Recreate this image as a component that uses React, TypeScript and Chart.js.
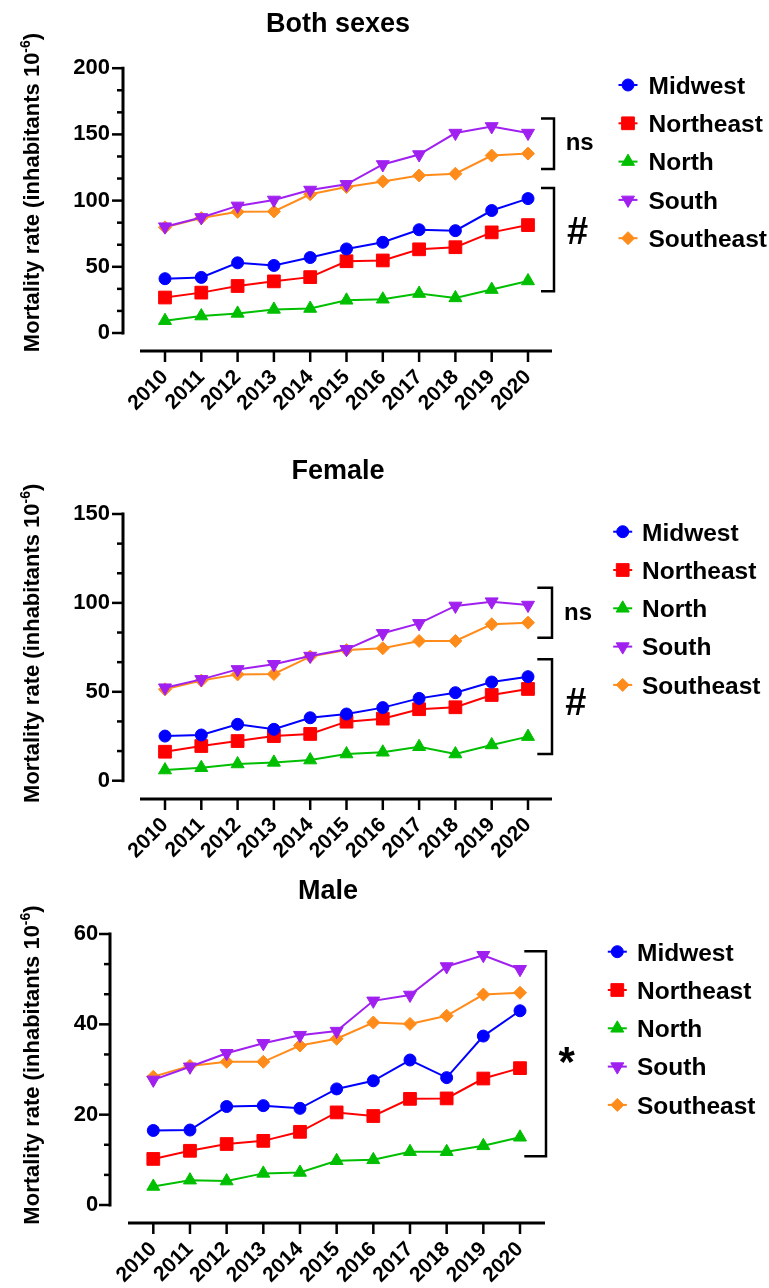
import React, { useEffect, useRef } from 'react';
import { Chart, registerables } from 'chart.js';
import { drawPoint } from 'chart.js/helpers';

Chart.register(...registerables);

// ---------- data ----------
const years = ['2010', '2011', '2012', '2013', '2014', '2015', '2016', '2017', '2018', '2019', '2020'];
const regions = ['Midwest', 'Northeast', 'North', 'South', 'Southeast'];

const bothMidwest = [41, 42, 53, 51, 57, 63.5, 68.5, 78, 77.3, 92.5, 101.5];
const bothNortheast = [26.8, 30.5, 35.5, 39, 42.2, 54.2, 54.8, 63.2, 64.8, 76, 81.5];
const bothNorth = [9.3, 12.8, 14.8, 17.8, 18.5, 24.7, 25.5, 29.8, 26.5, 32.8, 39.3];
const bothSouth = [80.3, 87.3, 96, 100.5, 108, 112.3, 127.3, 134.8, 151, 156, 151];
const bothSoutheast = [79.8, 86.8, 91.5, 91.8, 104.8, 110.3, 114.5, 119, 120.3, 134, 135.5];

const femaleMidwest = [25.1, 25.7, 31.7, 28.9, 35.4, 37.5, 41.1, 46.3, 49.5, 55.5, 58.5];
const femaleNortheast = [16.3, 19.5, 22.3, 25.1, 26.3, 33.2, 34.9, 40.2, 41.3, 48.2, 51.6];
const femaleNorth = [6, 7.3, 9.4, 10.3, 11.6, 15, 16, 19.1, 15, 20.1, 24.8];
const femaleSouth = [52.3, 57, 62.6, 65.5, 70.1, 73.9, 82.9, 88.5, 98.3, 100.7, 98.8];
const femaleSoutheast = [51.4, 56.3, 59.8, 60, 69.8, 73.5, 74.5, 78.6, 78.6, 88, 88.9];

const maleMidwest = [16.5, 16.6, 21.8, 22, 21.4, 25.7, 27.5, 32.1, 28.2, 37.4, 43];
const maleNortheast = [10.2, 12, 13.5, 14.2, 16.2, 20.5, 19.7, 23.5, 23.6, 28, 30.3];
const maleNorth = [4.1, 5.5, 5.3, 7, 7.2, 9.8, 10, 11.8, 11.8, 13.1, 15];
const maleSouth = [27.7, 30.6, 33.6, 35.8, 37.6, 38.5, 45.2, 46.5, 52.8, 55.3, 52.2];
const maleSoutheast = [28.4, 30.8, 31.7, 31.7, 35.3, 36.8, 40.4, 40.1, 41.9, 46.6, 47];

// significance brackets (value ranges on the y axis)
const bothBrackets = [
  { label: 'ns', from: 162, to: 123.8 },
  { label: '#', from: 109.5, to: 31.5 },
];
const femaleBrackets = [
  { label: 'ns', from: 108.5, to: 80.4 },
  { label: '#', from: 68.3, to: 15 },
];
const maleBrackets = [{ label: '*', from: 56.2, to: 10.8 }];

// ---------- styles ----------
const FONT = '"Liberation Sans", Arial, Helvetica, sans-serif';
const W = 769;
const Y_BOX = 100;

const seriesStyles = [
  { color: '#0000FF', pointStyle: 'circle', radius: 6, rotation: 0 },
  { color: '#FF0000', pointStyle: 'rect', radius: 9, rotation: 0 },
  { color: '#00BF00', pointStyle: 'triangle', radius: 7.5, rotation: 0 },
  { color: '#A020F0', pointStyle: 'triangle', radius: 7.5, rotation: 180 },
  { color: '#FF8C1A', pointStyle: 'rectRot', radius: 6.5, rotation: 0 },
];

type BracketDef = { label: string; from: number; to: number };
type BracketLayout = { x1: number; x2: number; cx: number; cy: number; size: number };

type Panel = {
  key: string;
  title: string;
  top: number;
  height: number;
  area: { left: number; right: number; top: number; bottom: number };
  yMax: number;
  yStep: number;
  axisX: number;
  xAxisGap: number;
  xAxisLeft: number;
  xAxisRight: number;
  titleX: number;
  titleBase: number;
  yTitleCenter: number;
  legendMarkerX: number;
  legendTextX: number;
  legendY: number;
  series: number[][];
  brackets: BracketDef[];
  bracketLayout: BracketLayout[];
};

const panels: Panel[] = [
  {
    key: 'both',
    title: 'Both sexes',
    top: 0,
    height: 430,
    area: { left: 165, right: 528, top: 67, bottom: 333 },
    yMax: 200,
    yStep: 50,
    axisX: 123,
    xAxisGap: 18,
    xAxisLeft: 140,
    xAxisRight: 552,
    titleX: 338,
    titleBase: 31.7,
    yTitleCenter: 192.5,
    legendMarkerX: 628,
    legendTextX: 648.5,
    legendY: 85,
    series: [bothMidwest, bothNortheast, bothNorth, bothSouth, bothSoutheast],
    brackets: bothBrackets,
    bracketLayout: [
      { x1: 541, x2: 554, cx: 580, cy: 143.3, size: 24 },
      { x1: 541, x2: 554, cx: 577.5, cy: 230.5, size: 38 },
    ],
  },
  {
    key: 'female',
    title: 'Female',
    top: 440,
    height: 420,
    area: { left: 165, right: 528, top: 74, bottom: 340.7 },
    yMax: 150,
    yStep: 50,
    axisX: 123,
    xAxisGap: 18.3,
    xAxisLeft: 140,
    xAxisRight: 552,
    titleX: 338,
    titleBase: 39.3,
    yTitleCenter: 203.3,
    legendMarkerX: 622.7,
    legendTextX: 642,
    legendY: 91.7,
    series: [femaleMidwest, femaleNortheast, femaleNorth, femaleSouth, femaleSoutheast],
    brackets: femaleBrackets,
    bracketLayout: [
      { x1: 537.3, x2: 552, cx: 578.3, cy: 173.3, size: 24 },
      { x1: 537.3, x2: 552, cx: 575.8, cy: 261.7, size: 38 },
    ],
  },
  {
    key: 'male',
    title: 'Male',
    top: 860,
    height: 428,
    area: { left: 153.3, right: 520, top: 74, bottom: 345 },
    yMax: 60,
    yStep: 20,
    axisX: 110,
    xAxisGap: 18,
    xAxisLeft: 128,
    xAxisRight: 545,
    titleX: 328,
    titleBase: 39.3,
    yTitleCenter: 205,
    legendMarkerX: 617.3,
    legendTextX: 637,
    legendY: 91.7,
    series: [maleMidwest, maleNortheast, maleNorth, maleSouth, maleSoutheast],
    brackets: maleBrackets,
    bracketLayout: [{ x1: 524.3, x2: 546, cx: 567, cy: 195, size: 42 }],
  },
];

function drawInkCentered(ctx: CanvasRenderingContext2D, text: string, cx: number, cy: number) {
  ctx.textAlign = 'left';
  ctx.textBaseline = 'alphabetic';
  const m = ctx.measureText(text);
  const left = -m.actualBoundingBoxLeft;
  const right = m.actualBoundingBoxRight;
  const asc = m.actualBoundingBoxAscent;
  const desc = m.actualBoundingBoxDescent;
  const x = cx - (left + right) / 2;
  const y = cy + (asc - desc) / 2;
  ctx.fillText(text, x, y);
}

function makeDecor(p: Panel) {
  return {
    id: 'decor_' + p.key,
    afterDraw(chart: any) {
      const ctx: CanvasRenderingContext2D = chart.ctx;
      const ys = chart.scales.y;
      const xs = chart.scales.x;
      const area = chart.chartArea;
      ctx.save();
      ctx.strokeStyle = '#000';
      ctx.fillStyle = '#000';
      ctx.lineCap = 'butt';

      // y axis line
      const y0 = ys.getPixelForValue(0);
      const yTop = ys.getPixelForValue(p.yMax);
      ctx.lineWidth = 3;
      ctx.beginPath();
      ctx.moveTo(p.axisX, yTop - 1.5);
      ctx.lineTo(p.axisX, y0 + 1.5);
      ctx.stroke();
      // y ticks (major + 2 minor per major)
      ctx.lineWidth = 2.5;
      const minor = p.yStep / 3;
      for (let i = 0; i <= Math.round(p.yMax / minor); i++) {
        const v = i * minor;
        const py = ys.getPixelForValue(v);
        const major = i % 3 === 0;
        ctx.beginPath();
        ctx.moveTo(p.axisX - (major ? 11 : 6), py);
        ctx.lineTo(p.axisX, py);
        ctx.stroke();
      }

      // x axis line
      const xLineY = area.bottom + p.xAxisGap;
      ctx.lineWidth = 3;
      ctx.beginPath();
      ctx.moveTo(p.xAxisLeft, xLineY);
      ctx.lineTo(p.xAxisRight, xLineY);
      ctx.stroke();
      ctx.lineWidth = 2.5;
      for (let i = 0; i < years.length; i++) {
        const px = xs.getPixelForValue(i);
        ctx.beginPath();
        ctx.moveTo(px, xLineY);
        ctx.lineTo(px, xLineY + 11);
        ctx.stroke();
      }

      // title
      ctx.font = `bold 27px ${FONT}`;
      ctx.textAlign = 'center';
      ctx.textBaseline = 'alphabetic';
      ctx.fillText(p.title, p.titleX, p.titleBase);

      // y title with superscript
      ctx.save();
      ctx.translate(38.5, p.yTitleCenter);
      ctx.rotate(-Math.PI / 2);
      const mainText = 'Mortality rate (inhabitants 10';
      const supText = '-6';
      const endText = ')';
      ctx.font = `bold 22px ${FONT}`;
      const w1 = ctx.measureText(mainText).width;
      const w3 = ctx.measureText(endText).width;
      ctx.font = `bold 14px ${FONT}`;
      const w2 = ctx.measureText(supText).width;
      const total = w1 + w2 + w3;
      let tx = -total / 2;
      ctx.textAlign = 'left';
      ctx.font = `bold 22px ${FONT}`;
      ctx.fillText(mainText, tx, 0);
      tx += w1;
      ctx.font = `bold 14px ${FONT}`;
      ctx.fillText(supText, tx, -9);
      tx += w2;
      ctx.font = `bold 22px ${FONT}`;
      ctx.fillText(endText, tx, 0);
      ctx.restore();

      // brackets
      p.brackets.forEach((b, i) => {
        const L = p.bracketLayout[i];
        const ya = ys.getPixelForValue(b.from);
        const yb = ys.getPixelForValue(b.to);
        ctx.lineWidth = 2.5;
        ctx.lineJoin = 'miter';
        ctx.beginPath();
        ctx.moveTo(L.x1, ya);
        ctx.lineTo(L.x2, ya);
        ctx.lineTo(L.x2, yb);
        ctx.lineTo(L.x1, yb);
        ctx.stroke();
        ctx.font = `bold ${L.size}px ${FONT}`;
        drawInkCentered(ctx, b.label, L.cx, L.cy);
      });

      // legend
      regions.forEach((name, i) => {
        const st = seriesStyles[i];
        const ry = p.legendY + i * 38.3;
        ctx.strokeStyle = st.color;
        ctx.fillStyle = st.color;
        ctx.lineWidth = 2;
        ctx.beginPath();
        ctx.moveTo(p.legendMarkerX - 9.5, ry);
        ctx.lineTo(p.legendMarkerX + 9.5, ry);
        ctx.stroke();
        ctx.lineWidth = 1;
        drawPoint(ctx, { pointStyle: st.pointStyle as any, radius: st.radius, rotation: st.rotation, borderWidth: 1 } as any, p.legendMarkerX, ry);
        ctx.fillStyle = '#000';
        ctx.font = `bold 24.5px ${FONT}`;
        ctx.textAlign = 'left';
        ctx.textBaseline = 'alphabetic';
        ctx.fillText(name, p.legendTextX, ry + 8.8);
      });

      ctx.restore();
    },
  };
}

function PanelChart({ p }: { p: Panel }) {
  const ref = useRef<HTMLCanvasElement>(null);
  useEffect(() => {
    const canvas = ref.current;
    if (!canvas) return;
    const xH = p.height - p.area.bottom;
    const chart = new Chart(canvas, {
      type: 'line',
      data: {
        labels: years,
        datasets: regions.map((name, i) => {
          const st = seriesStyles[i];
          return {
            label: name,
            data: p.series[i],
            borderColor: st.color,
            backgroundColor: st.color,
            pointBackgroundColor: st.color,
            pointBorderColor: st.color,
            pointStyle: st.pointStyle as any,
            pointRadius: st.radius,
            pointRotation: st.rotation,
            pointBorderWidth: 1,
            borderWidth: 2,
            tension: 0,
            fill: false,
            clip: false as any,
          };
        }),
      },
      options: {
        responsive: false,
        animation: false,
        devicePixelRatio: 1,
        events: [],
        layout: {
          padding: {
            left: p.area.left - Y_BOX,
            right: W - p.area.right,
            top: p.area.top,
            bottom: 0,
          },
        },
        plugins: {
          legend: { display: false },
          title: { display: false },
          tooltip: { enabled: false },
        },
        scales: {
          x: {
            type: 'category',
            offset: false,
            grid: { display: false, drawTicks: false },
            border: { display: false },
            ticks: {
              autoSkip: false,
              maxRotation: 45,
              minRotation: 45,
              padding: 32,
              color: '#000',
              font: { family: FONT, size: 21, weight: 'bold' },
            },
            afterFit: (s: any) => {
              s.height = xH;
            },
          },
          y: {
            type: 'linear',
            min: 0,
            max: p.yMax,
            grid: { display: false, drawTicks: false },
            border: { display: false },
            ticks: {
              stepSize: p.yStep,
              padding: 55,
              color: '#000',
              font: { family: FONT, size: 22, weight: 'bold' },
            },
            afterFit: (s: any) => {
              s.width = Y_BOX;
            },
          },
        },
      } as any,
      plugins: [makeDecor(p)],
    });
    return () => chart.destroy();
  }, [p]);
  return (
    <canvas
      ref={ref}
      width={W}
      height={p.height}
      style={{ position: 'absolute', left: 0, top: p.top, width: W, height: p.height, display: 'block' }}
    />
  );
}

export default function App() {
  return (
    <div style={{ position: 'absolute', left: 0, top: 0, width: W, height: 1288, background: '#fff', overflow: 'hidden' }}>
      {panels.map((p) => (
        <PanelChart key={p.key} p={p} />
      ))}
    </div>
  );
}
